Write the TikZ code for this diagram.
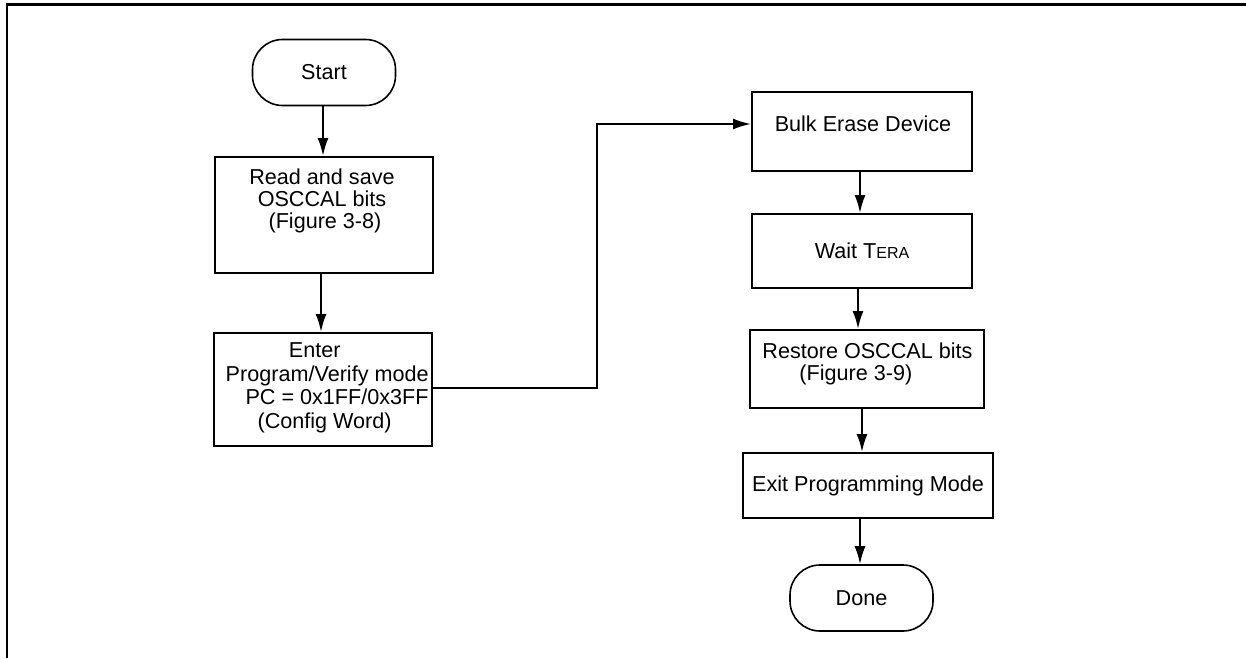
\documentclass[tikz,border=0pt]{standalone}
\usepackage{fontspec}
\setmainfont{Liberation Sans}
\usetikzlibrary{arrows.meta}
\begin{document}
\begin{tikzpicture}[x=0.5pt,y=-0.5pt,
  every node/.style={font=\fontsize{10.8pt}{10.8pt}\selectfont},
  box/.style={draw,line width=1pt,inner sep=0pt},
  term/.style={draw,line width=0.8pt,rounded corners=15pt,inner sep=0pt,minimum width=71.5pt,minimum height=33pt},
  txt/.style={align=center,inner sep=0pt},
  txtl/.style={align=left,inner sep=0pt,anchor=west},
  txtr/.style={align=right,inner sep=0pt,anchor=east},
  arr/.style={line width=1pt,-{Latex[length=9pt,width=5.5pt]}}]
\useasboundingbox (0,0) rectangle (1246,658);
% frame
\draw[line width=1.5pt] (6,5) -- (1246,5);
\draw[line width=1.1pt] (7,5) -- (7,658);
% left column
\node[term] (start) at (324,72.5) {Start};
\node[box,minimum width=109pt,minimum height=58pt] (b1) at (324,215) {};
\node[txt] (t1) at (322,201) {Read and save\\OSCCAL bits\\ \ (Figure 3-8)};
\node[box,minimum width=109pt,minimum height=56.5pt] (b2) at (323,389.5) {};
\node[txtr,font=\fontsize{10.8pt}{11.8pt}\selectfont] (t2) at (429,388) {Enter\hspace*{44pt}\\Program/Verify mode\\PC = 0x1FF/0x3FF\\(Config Word)\hspace*{18.5pt}};
% right column
\node[box,minimum width=110pt,minimum height=39.5pt] (bulk) at (862,131.5) {};
\node[txt] (t3) at (863,124) {Bulk Erase Device};
\node[box,minimum width=110pt,minimum height=37pt] (wait) at (862,251) {Wait T{\fontsize{8pt}{9pt}\selectfont ERA}};
\node[box,minimum width=117pt,minimum height=39pt] (rest) at (867,369) {};
\node[txtl] (t4) at (762,364) {Restore OSCCAL bits\\\hspace*{18.5pt}(Figure 3-9)};
\node[box,minimum width=125pt,minimum height=32.5pt] (exit) at (868,485.5) {Exit Programming Mode};
\node[term] (done) at (861.5,598) {Done};
% connector x positions
\coordinate (xl1) at (323,0);
\coordinate (xl2) at (321,0);
\coordinate (xr1) at (860,0);
\coordinate (xr2) at (858,0);
\coordinate (xr3) at (862,0);
\coordinate (xr4) at (860,0);
\coordinate (bend) at (597,124);
% arrows
\draw[arr] (start.south -| xl1) -- (b1.north -| xl1);
\draw[arr] (b1.south -| xl2) -- (b2.north -| xl2);
\draw[arr] (b2.east |- 0,388) -- (bend |- 0,388) -- (bend) -- (bend -| bulk.west);
\draw[arr] (bulk.south -| xr1) -- (wait.north -| xr1);
\draw[arr] (wait.south -| xr2) -- (rest.north -| xr2);
\draw[arr] (rest.south -| xr3) -- (exit.north -| xr3);
\draw[arr] (exit.south -| xr4) -- (done.north -| xr4);
\end{tikzpicture}
\end{document}
